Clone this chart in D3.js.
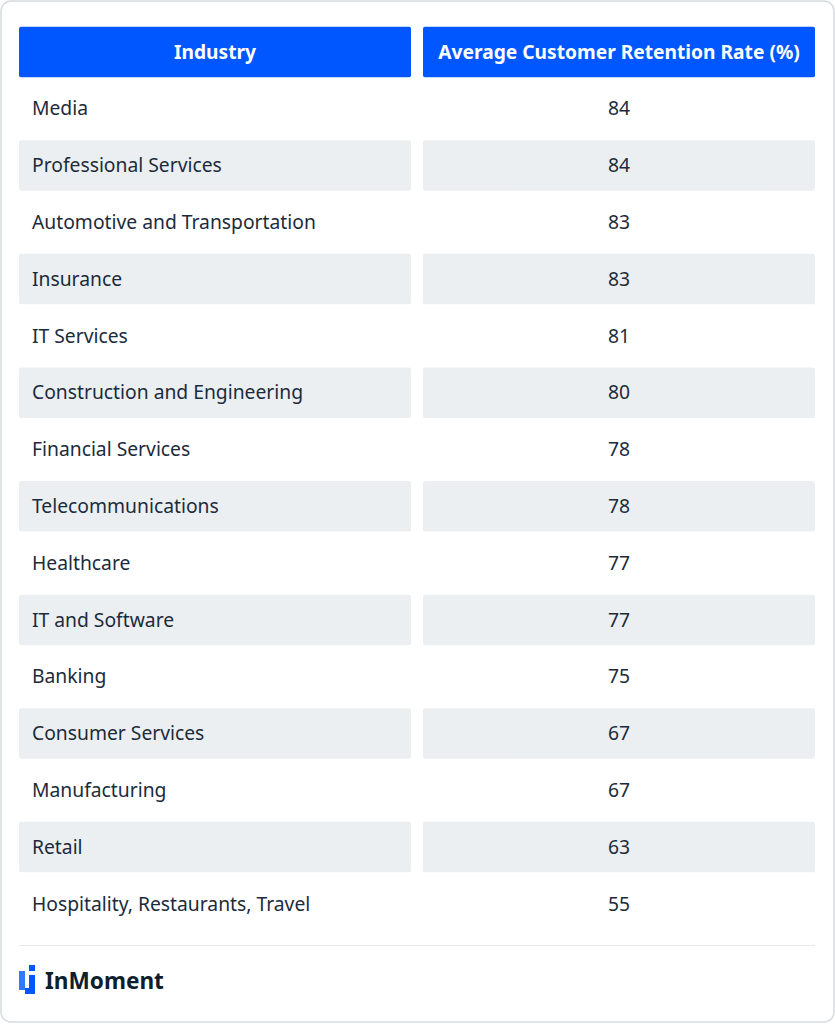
<!DOCTYPE html>
<html>
<head>
<meta charset="utf-8">
<script src="https://cdn.jsdelivr.net/npm/d3@7"></script>
<style>
  body { margin: 0; background: #fff; }
  svg { display: block; }
</style>
</head>
<body>
<div id="chart"></div>
<script>
var columns = ["Industry", "Average Customer Retention Rate (%)"];
var industries = [
  "Media", "Professional Services", "Automotive and Transportation", "Insurance",
  "IT Services", "Construction and Engineering", "Financial Services",
  "Telecommunications", "Healthcare", "IT and Software", "Banking",
  "Consumer Services", "Manufacturing", "Retail", "Hospitality, Restaurants, Travel"
];
var retention = [84, 84, 83, 83, 81, 80, 78, 78, 77, 77, 75, 67, 67, 63, 55];
var brand = "InMoment";

var width = 835, height = 1024;
var font = "'Noto Sans', sans-serif";
var textColor = "#1b2b3b";

var svg = d3.select("#chart")
    .append("svg")
    .attr("width", width)
    .attr("height", height);

// card outline
svg.append("rect")
    .attr("x", 1).attr("y", 1)
    .attr("width", width - 2).attr("height", height - 3)
    .attr("rx", 10)
    .style("fill", "#fff")
    .style("stroke", "#d8dcdf")
    .style("stroke-width", 1.5);

// columns: 392px cells with a 12px gap
var x = d3.scaleBand()
    .domain(columns)
    .range([19, 815])
    .paddingInner(12 / 404);

// rows: header + data rows share a pitch
var rowKeys = ["header"].concat(industries);
var y = d3.scaleBand()
    .domain(rowKeys)
    .range([23.5, 23.5 + 56.8 * rowKeys.length]);

var cellH = 50.5;
function cellY(k) { return y(k) + (y.bandwidth() - cellH) / 2; }

// header
var head = svg.append("g").selectAll("g")
    .data(columns)
    .enter().append("g");
head.append("rect")
    .attr("x", function(d) { return x(d); })
    .attr("y", cellY("header"))
    .attr("width", x.bandwidth())
    .attr("height", cellH)
    .attr("rx", 2)
    .style("fill", "#0057ff");
head.append("text")
    .attr("x", function(d) { return x(d) + x.bandwidth() / 2; })
    .attr("y", cellY("header") + cellH / 2)
    .attr("dy", "0.35em")
    .attr("text-anchor", "middle")
    .style("font-family", font)
    .style("font-weight", 700)
    .style("font-size", "19.2px")
    .style("fill", "#fff")
    .text(function(d) { return d; });

var rows = industries.map(function(d, i) { return { name: d, value: retention[i], i: i }; });

var row = svg.append("g").selectAll("g")
    .data(rows)
    .enter().append("g");

// shaded bands on every other row
row.filter(function(d) { return d.i % 2 === 1; })
  .selectAll("rect")
  .data(function(d) { return columns.map(function(c) { return { col: c, row: d }; }); })
  .enter().append("rect")
    .attr("x", function(d) { return x(d.col); })
    .attr("y", function(d) { return cellY(d.row.name); })
    .attr("width", x.bandwidth())
    .attr("height", cellH)
    .attr("rx", 2)
    .style("fill", "#eceff1");

row.append("text")
    .attr("x", x(columns[0]) + 13)
    .attr("y", function(d) { return cellY(d.name) + cellH / 2; })
    .attr("dy", "0.35em")
    .style("font-family", font)
    .style("font-size", "19.3px")
    .style("fill", textColor)
    .text(function(d) { return d.name; });

row.append("text")
    .attr("x", x(columns[1]) + x.bandwidth() / 2)
    .attr("y", function(d) { return cellY(d.name) + cellH / 2; })
    .attr("dy", "0.35em")
    .attr("text-anchor", "middle")
    .style("font-family", font)
    .style("font-size", "19.3px")
    .style("fill", textColor)
    .text(function(d) { return d.value; });

// footer rule
svg.append("line")
    .attr("x1", 19).attr("x2", 815)
    .attr("y1", 945.5).attr("y2", 945.5)
    .style("stroke", "#e6e9eb")
    .style("stroke-width", 1);

// logo mark
var logo = svg.append("g").attr("transform", "translate(19,965)");
logo.append("rect").attr("x", 10).attr("y", 0).attr("width", 6).attr("height", 6).style("fill", "#0057ff");
logo.append("rect").attr("x", 0).attr("y", 6).attr("width", 6).attr("height", 19).style("fill", "#2f7bff");
logo.append("path")
    .attr("d", "M10,10 H16 V29 H6 V23 H10 Z")
    .style("fill", "#0057ff");

svg.append("text")
    .attr("x", 45)
    .attr("y", 989)
    .style("font-family", font)
    .style("font-weight", 700)
    .style("font-size", "22.6px")
    .style("fill", "#0e1e2c")
    .text(brand);
</script>
</body>
</html>
